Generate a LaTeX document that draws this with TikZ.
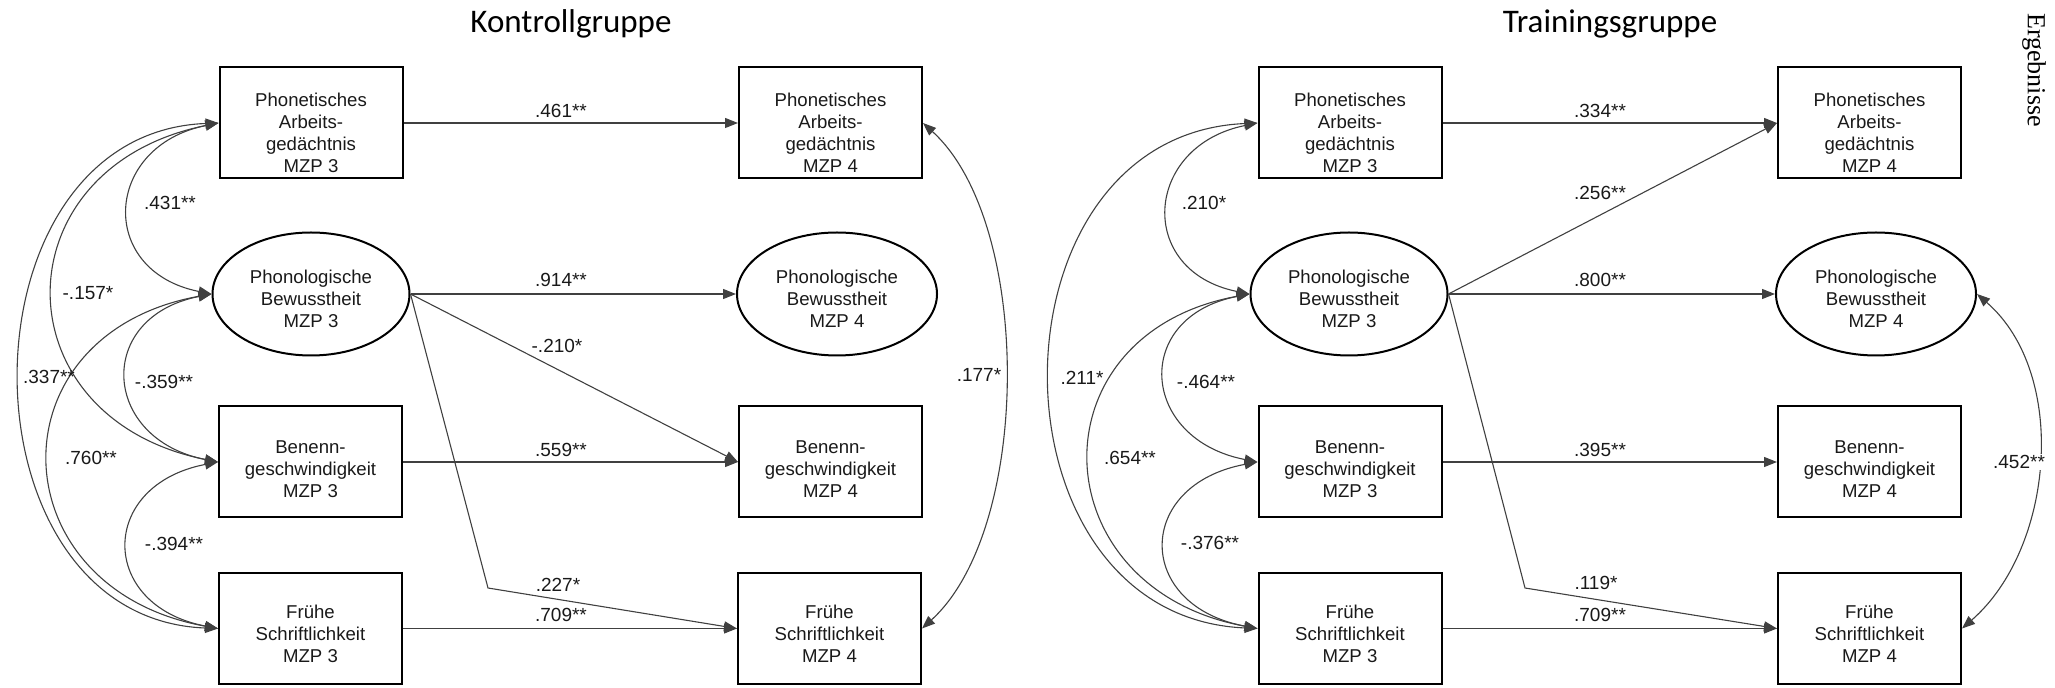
\documentclass[tikz,border=0pt]{standalone}
\usepackage{fontspec}
\setmainfont{Liberation Sans}
\newfontfamily\titlefont{Carlito}
\newfontfamily\headfont{Liberation Serif}
\usetikzlibrary{shapes.geometric,arrows.meta}

% invisible strut on the first text line: pushes the node text down inside its frame
\newcommand{\nodestrut}[1]{\rule{0pt}{\dimexpr 6.8pt+#1\relax}}

\tikzset{
  obsbox/.style={draw=black, line width=1pt, rectangle, minimum width=91.5pt,
    minimum height=55.5pt, inner sep=0pt, align=center, text=black!90,
    font=\fontsize{9.3pt}{11pt}\selectfont},
  latbox/.style={obsbox, ellipse, minimum width=98.5pt, minimum height=61.5pt},
  regarrow/.style={draw=black!75, line width=0.55pt,
    -{Triangle[length=6.5pt,width=5pt]}},
  covarrow/.style={draw=black!75, line width=0.55pt,
    {Triangle[length=6.5pt,width=5pt]}-{Triangle[length=6.5pt,width=5pt]}},
  coefl/.style={font=\fontsize{9.5pt}{11pt}\selectfont, inner sep=0.5pt, text=black!90},
  grouptitle/.style={font=\titlefont\fontsize{16.5pt}{20pt}\selectfont, anchor=base, inner sep=0pt},
}

\begin{document}
\begin{tikzpicture}[x=0.5pt, y=-0.5pt]
\useasboundingbox (0,0) rectangle (2055,688);

% page header
\node[font=\headfont\fontsize{13pt}{15pt}\selectfont, rotate=-90, inner sep=0pt] (hdr) at (2034,70) {Ergebnisse};

% ---------------- Kontrollgruppe ----------------
\node[grouptitle] (tk) at (571,33) {Kontrollgruppe};

\node[obsbox] (kA3) at (311,123) {\nodestrut{9.5pt}Phonetisches\\Arbeits-\\gedächtnis\\MZP 3};
\node[latbox] (kP3) at (311,294) {\nodestrut{5pt}Phonologische\\Bewusstheit\\MZP 3};
\node[obsbox] (kB3) at (310.5,462) {\nodestrut{7pt}Benenn-\\geschwindigkeit\\MZP 3};
\node[obsbox] (kF3) at (310.5,628.5) {\nodestrut{5pt}Frühe\\Schriftlichkeit\\MZP 3};

\node[obsbox] (kA4) at (830.5,123) {\nodestrut{9.5pt}Phonetisches\\Arbeits-\\gedächtnis\\MZP 4};
\node[latbox, minimum width=100pt] (kP4) at (837,294) {\nodestrut{5pt}Phonologische\\Bewusstheit\\MZP 4};
\node[obsbox] (kB4) at (830.5,462) {\nodestrut{7pt}Benenn-\\geschwindigkeit\\MZP 4};
\node[obsbox] (kF4) at (829.5,628.5) {\nodestrut{5pt}Frühe\\Schriftlichkeit\\MZP 4};

\coordinate (kbend) at (488,588);

% regression paths
\draw[regarrow] (kA3.east) -- (kA4.west);
\draw[regarrow] (kP3.east) -- (kP4.west);
\draw[regarrow] (kP3.east) -- (kB4.west);
\draw[regarrow] (kP3.east) -- (kbend) -- (kF4.west);
\draw[regarrow] (kB3.east) -- (kB4.west);
\draw[regarrow] (kF3.east) -- (kF4.west);

% covariances
\draw[covarrow] (kA3.west) .. controls +(-115,23) and +(-115,-23) .. (kP3.west);
\draw[covarrow] (kA3.west) .. controls +(-220,44) and +(-220,-44) .. (kB3.west);
\draw[covarrow] (kA3.west) .. controls +(-264,10) and +(-264,-10) .. (kF3.west);
\draw[covarrow] (kP3.west) .. controls +(-117,23) and +(-117,-23) .. (kB3.west);
\draw[covarrow] (kP3.west) .. controls +(-221,40) and +(-221,-40) .. (kF3.west);
\draw[covarrow] (kB3.west) .. controls +(-120,23) and +(-120,-23) .. (kF3.west);
\draw[covarrow] (kA4.east) .. controls +(110,100) and +(110,-100) .. (kF4.east);

% coefficients
\node[coefl] (k1) at (561,111) {.461**};
\node[coefl] (k2) at (561,280) {.914**};
\node[coefl] (k3) at (557,346) {-.210*};
\node[coefl] (k4) at (561,450) {.559**};
\node[coefl] (k5) at (558,585) {.227*};
\node[coefl] (k6) at (561,615) {.709**};
\node[coefl] (k7) at (170,203) {.431**};
\node[coefl] (k8) at (88,293) {-.157*};
\node[coefl] (k9) at (49,377) {.337**};
\node[coefl] (k10) at (164,382) {-.359**};
\node[coefl] (k11) at (91,458) {.760**};
\node[coefl] (k12) at (174,544) {-.394**};
\node[coefl] (k13) at (979,375) {.177*};

% ---------------- Trainingsgruppe ----------------
\node[grouptitle] (tt) at (1610,33) {Trainingsgruppe};

\node[obsbox] (tA3) at (1350,123) {\nodestrut{9.5pt}Phonetisches\\Arbeits-\\gedächtnis\\MZP 3};
\node[latbox] (tP3) at (1349,294) {\nodestrut{5pt}Phonologische\\Bewusstheit\\MZP 3};
\node[obsbox] (tB3) at (1350,462) {\nodestrut{7pt}Benenn-\\geschwindigkeit\\MZP 3};
\node[obsbox] (tF3) at (1350,628.5) {\nodestrut{5pt}Frühe\\Schriftlichkeit\\MZP 3};

\node[obsbox] (tA4) at (1869.5,123) {\nodestrut{9.5pt}Phonetisches\\Arbeits-\\gedächtnis\\MZP 4};
\node[latbox, minimum width=100pt] (tP4) at (1876,294) {\nodestrut{5pt}Phonologische\\Bewusstheit\\MZP 4};
\node[obsbox] (tB4) at (1869.5,462) {\nodestrut{7pt}Benenn-\\geschwindigkeit\\MZP 4};
\node[obsbox] (tF4) at (1869.5,628.5) {\nodestrut{5pt}Frühe\\Schriftlichkeit\\MZP 4};

\coordinate (tbend) at (1525,588);

% regression paths
\draw[regarrow] (tA3.east) -- (tA4.west);
\draw[regarrow] (tP3.east) -- (tA4.west);
\draw[regarrow] (tP3.east) -- (tP4.west);
\draw[regarrow] (tP3.east) -- (tbend) -- (tF4.west);
\draw[regarrow] (tB3.east) -- (tB4.west);
\draw[regarrow] (tF3.east) -- (tF4.west);

% covariances
\draw[covarrow] (tA3.west) .. controls +(-114,23) and +(-114,-23) .. (tP3.west);
\draw[covarrow] (tA3.west) .. controls +(-276,12) and +(-276,-12) .. (tF3.west);
\draw[covarrow] (tP3.west) .. controls +(-118,23) and +(-118,-23) .. (tB3.west);
\draw[covarrow] (tP3.west) .. controls +(-218,40) and +(-218,-40) .. (tF3.west);
\draw[covarrow] (tB3.west) .. controls +(-123,23) and +(-123,-23) .. (tF3.west);
\draw[covarrow] (tP4.east) .. controls +(92,80) and +(92,-80) .. (tF4.east);

% coefficients
\node[coefl] (t1) at (1600,111) {.334**};
\node[coefl] (t2) at (1600,193) {.256**};
\node[coefl] (t3) at (1600,280) {.800**};
\node[coefl] (t4) at (1600,450) {.395**};
\node[coefl] (t5) at (1596,583) {.119*};
\node[coefl] (t6) at (1600,615) {.709**};
\node[coefl] (t7) at (1204,203) {.210*};
\node[coefl] (t8) at (1082,378) {.211*};
\node[coefl] (t9) at (1206,382) {-.464**};
\node[coefl] (t10) at (1130,458) {.654**};
\node[coefl] (t11) at (1210,543) {-.376**};
\node[coefl, fill=white] (t12) at (2019,462) {.452**};
\end{tikzpicture}
\end{document}
